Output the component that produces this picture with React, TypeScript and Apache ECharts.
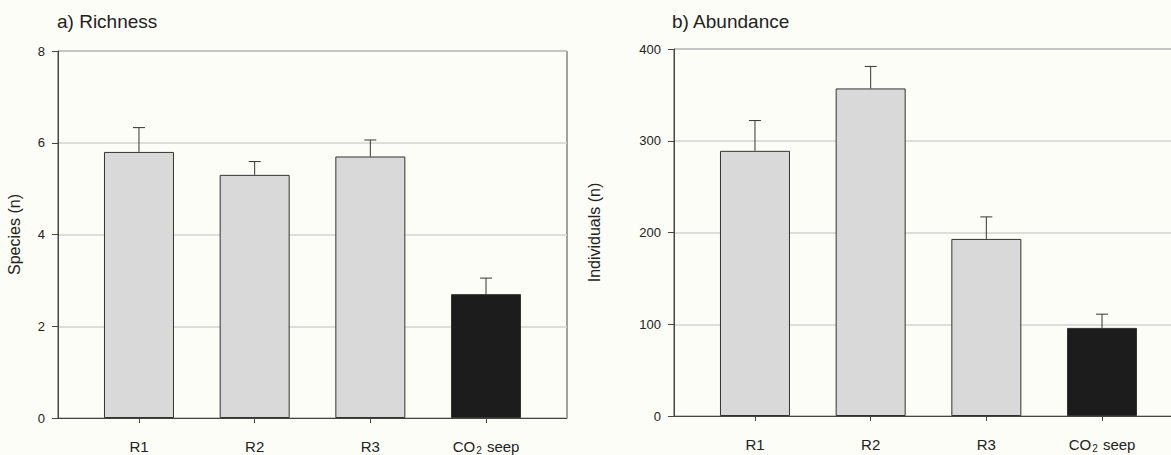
import React, { useEffect, useRef } from "react";
import * as echarts from "echarts";

const categories = ["R1", "R2", "R3", "CO2 seep"];
const categoryPos = [1, 2, 3, 4];
const richnessMean = [5.8, 5.3, 5.7, 2.7];
const richnessSE = [0.53, 0.29, 0.36, 0.35];
const abundanceMean = [289, 357, 193, 96];
const abundanceSE = [33, 24, 24, 15];
const richnessTicks = [0, 2, 4, 6, 8];
const abundanceTicks = [0, 100, 200, 300, 400];
const barColors = ["#d9d9d9", "#d9d9d9", "#d9d9d9", "#1c1c1c"];

const FONT = "'Liberation Sans', Arial, sans-serif";
const TXT = "#222";
const LINE = "#444";

function xAxisFor(gridIndex: number) {
  return {
    type: "value",
    gridIndex,
    min: 0.3,
    max: 4.7,
    axisLine: { show: true, lineStyle: { color: LINE, width: 1 } },
    axisTick: { show: true, customValues: categoryPos, length: 5, lineStyle: { color: LINE } },
    splitLine: { show: false },
    axisLabel: {
      customValues: categoryPos,
      margin: 20,
      fontFamily: FONT,
      fontSize: 15,
      color: TXT,
      formatter: (v: number) => {
        const c = categories[Math.round(v) - 1];
        if (c === "CO2 seep") return "{n|CO}{s|2}{n| seep}";
        return "{n|" + c + "}";
      },
      rich: {
        n: { fontFamily: FONT, fontSize: 15, color: TXT, lineHeight: 17 },
        s: { fontFamily: FONT, fontSize: 10, color: TXT, lineHeight: 9, verticalAlign: "bottom", padding: [0, 1, 0, 1] },
      },
    },
  };
}

function yAxisFor(gridIndex: number, ticks: number[], name: string, nameGap: number) {
  return {
    type: "value",
    gridIndex,
    min: ticks[0],
    max: ticks[ticks.length - 1],
    interval: ticks[1] - ticks[0],
    name,
    nameLocation: "middle",
    nameRotate: 90,
    nameGap,
    nameTextStyle: { fontFamily: FONT, fontSize: 16, color: TXT },
    axisLine: { show: true, lineStyle: { color: LINE, width: 1 } },
    axisTick: { show: true, length: 6, lineStyle: { color: LINE } },
    splitLine: { show: true, lineStyle: { color: "#d2d2d2", width: 1.5 } },
    axisLabel: { margin: 13, fontFamily: FONT, fontSize: 13, color: TXT },
  };
}

function barSeries(idx: number, means: number[]) {
  return {
    type: "bar",
    xAxisIndex: idx,
    yAxisIndex: idx,
    barWidth: 70,
    z: 3,
    data: means.map((m, i) => ({
      value: [categoryPos[i], m],
      itemStyle: { color: barColors[i], borderColor: "#333", borderWidth: 1 },
    })),
  };
}

function errorSeries(idx: number, means: number[], se: number[]) {
  return {
    type: "custom",
    xAxisIndex: idx,
    yAxisIndex: idx,
    z: 4,
    data: means.map((m, i) => [categoryPos[i], m, se[i]]),
    renderItem: (params: any, api: any) => {
      const x = api.value(0);
      const y = api.value(1);
      const e = api.value(2);
      const base = api.coord([x, y]);
      const top = api.coord([x, y + e]);
      const style = { stroke: "#333", lineWidth: 1 };
      return {
        type: "group",
        children: [
          { type: "line", shape: { x1: base[0], y1: base[1], x2: top[0], y2: top[1] }, style },
          { type: "line", shape: { x1: top[0] - 6, y1: top[1], x2: top[0] + 6, y2: top[1] }, style },
        ],
      };
    },
  };
}

export default function App() {
  const ref = useRef<HTMLDivElement>(null);
  useEffect(() => {
    if (!ref.current) return;
    const chart = echarts.init(ref.current, undefined, { renderer: "svg" });
    chart.setOption({
      animation: false,
      backgroundColor: "#fdfdf7",
      title: [
        { text: "a) Richness", left: 57, top: 12, padding: 0, textStyle: { fontFamily: FONT, fontSize: 19, fontWeight: "normal", color: TXT } },
        { text: "b) Abundance", left: 672, top: 12, padding: 0, textStyle: { fontFamily: FONT, fontSize: 19, fontWeight: "normal", color: TXT } },
      ],
      grid: [
        { left: 58, right: 604, top: 51, bottom: 37, outerBoundsMode: "none", containLabel: false, show: true, borderColor: LINE, borderWidth: 1, backgroundColor: "transparent" },
        { left: 674, right: -12, top: 49, bottom: 39, outerBoundsMode: "none", containLabel: false, show: true, borderColor: LINE, borderWidth: 1, backgroundColor: "transparent" },
      ],
      xAxis: [xAxisFor(0), xAxisFor(1)],
      yAxis: [
        yAxisFor(0, richnessTicks, "Species (n)", 36),
        yAxisFor(1, abundanceTicks, "Individuals (n)", 72),
      ],
      series: [
        barSeries(0, richnessMean),
        errorSeries(0, richnessMean, richnessSE),
        barSeries(1, abundanceMean),
        errorSeries(1, abundanceMean, abundanceSE),
      ],
    });
    return () => chart.dispose();
  }, []);
  return (
    <div
      ref={ref}
      style={{ position: "fixed", left: 0, top: 0, width: 1171, height: 455 }}
    />
  );
}
